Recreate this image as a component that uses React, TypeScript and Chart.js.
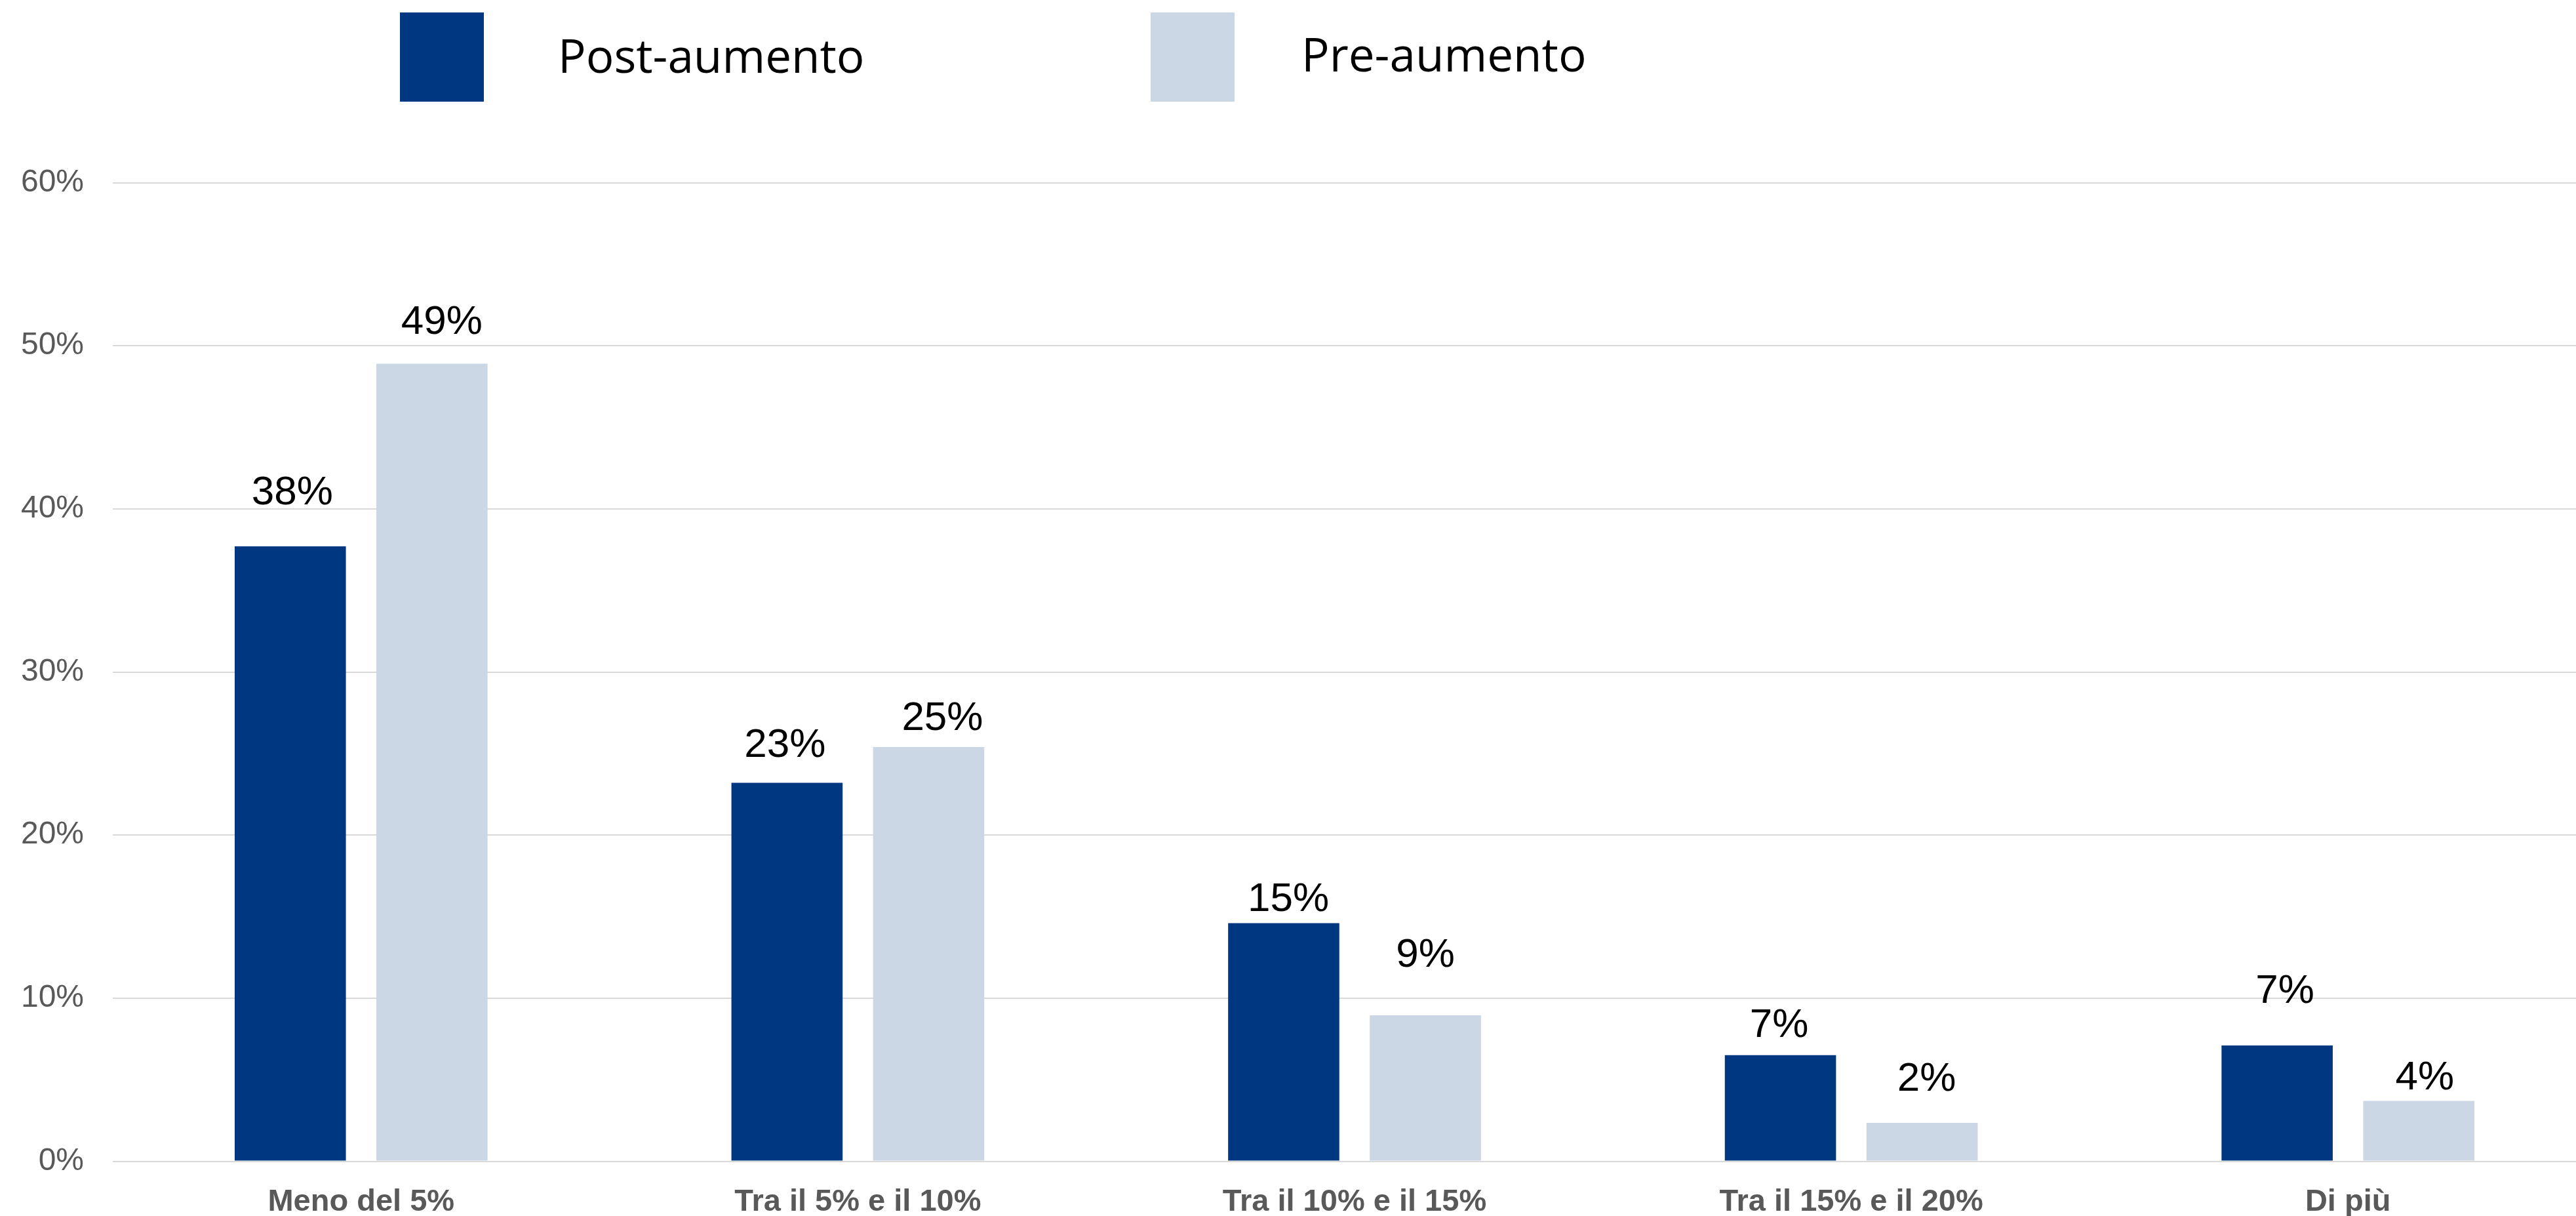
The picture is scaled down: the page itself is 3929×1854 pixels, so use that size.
import React, { useEffect, useRef } from 'react';
import { Chart, registerables } from 'chart.js';

Chart.register(...registerables);

// ---- Data ----
const categories = ['Meno del 5%', 'Tra il 5% e il 10%', 'Tra il 10% e il 15%', 'Tra il 15% e il 20%', 'Di più'];
const seriesNames = ['Post-aumento', 'Pre-aumento'];
const postValues = [37.7, 23.2, 14.6, 6.5, 7.1];
const preValues = [48.9, 25.4, 8.95, 2.35, 3.7];
const yTickMax = 60;
const yTickStep = 10;

// ---- Style ----
const COLORS = ['#003781', '#cbd7e5'];
const GRID = '#d9d9d9';
const AXIS_TEXT = '#595959';
const SANS = '"Liberation Sans", Arial, sans-serif';
const LEGEND_FONT = '"Open Sans", "Noto Sans", sans-serif';

// label offsets [dx, dy] from bar top-center (manual placements in the original)
const labelOffsets = [
  [[3, 64], [-3, 40], [7, 18], [-2, 28], [12, 65]],
  [[15, 46], [21, 26], [0, 74], [7, 49], [9, 17]],
];

const legendItems = [
  { box: [610, 19, 128, 136], textX: 851, baseline: 111 },
  { box: [1755, 19, 128, 136], textX: 1985, baseline: 109 },
];

const valueLabelPlugin = {
  id: 'valueLabels',
  afterDatasetsDraw(chart: any) {
    const ctx = chart.ctx;
    ctx.save();
    ctx.font = `62px ${SANS}`;
    ctx.fillStyle = '#000000';
    ctx.textAlign = 'center';
    ctx.textBaseline = 'alphabetic';
    chart.data.datasets.forEach((ds: any, di: number) => {
      const meta = chart.getDatasetMeta(di);
      meta.data.forEach((bar: any, i: number) => {
        const v = ds.data[i];
        const [dx, dy] = labelOffsets[di][i];
        ctx.fillText(`${Math.round(v)}%`, bar.x + dx, bar.y - dy);
      });
    });
    ctx.restore();
  },
};

const legendPlugin = {
  id: 'customLegend',
  afterDraw(chart: any) {
    const ctx = chart.ctx;
    ctx.save();
    ctx.font = `71px ${LEGEND_FONT}`;
    ctx.textAlign = 'left';
    ctx.textBaseline = 'alphabetic';
    chart.data.datasets.forEach((ds: any, di: number) => {
      const it = legendItems[di];
      ctx.fillStyle = ds.backgroundColor;
      ctx.fillRect(it.box[0], it.box[1], it.box[2], it.box[3]);
      ctx.fillStyle = '#000000';
      ctx.fillText(ds.label, it.textX, it.baseline);
    });
    ctx.restore();
  },
};

export default function App() {
  const canvasRef = useRef<HTMLCanvasElement | null>(null);

  useEffect(() => {
    const canvas = canvasRef.current;
    if (!canvas) return;
    const chart = new Chart(canvas, {
      type: 'bar',
      data: {
        labels: categories,
        datasets: [
          { label: seriesNames[0], data: postValues, backgroundColor: COLORS[0], borderWidth: 0 },
          { label: seriesNames[1], data: preValues, backgroundColor: COLORS[1], borderWidth: 0 },
        ],
      },
      options: {
        responsive: false,
        maintainAspectRatio: false,
        animation: false,
        devicePixelRatio: 1,
        layout: { padding: { top: 278.5, left: 0, right: 0, bottom: 0 } },
        datasets: {
          bar: { categoryPercentage: 0.5704, barPercentage: 0.785 },
        },
        plugins: {
          legend: { display: false },
          tooltip: { enabled: false },
          title: { display: false },
        },
        scales: {
          x: {
            grid: { display: false, drawTicks: false },
            border: { display: false },
            ticks: {
              color: AXIS_TEXT,
              font: { family: SANS, size: 47, weight: 'bold' },
              padding: 34,
              maxRotation: 0,
              autoSkip: false,
            },
            afterFit(scale: any) {
              scale.height = 83.5;
            },
          },
          y: {
            min: 0,
            max: yTickMax,
            grid: { color: GRID, lineWidth: 2, drawTicks: false },
            border: { display: false },
            ticks: {
              stepSize: yTickStep,
              color: AXIS_TEXT,
              font: { family: SANS, size: 48 },
              padding: 44,
              callback: (v: any) => `${v}%`,
            },
            afterFit(scale: any) {
              scale.width = 172;
            },
          },
        },
      },
      plugins: [valueLabelPlugin, legendPlugin],
    });
    return () => chart.destroy();
  }, []);

  return (
    <div
      style={{
        position: 'absolute',
        left: 0,
        top: 0,
        width: 3929,
        height: 1854,
        overflow: 'hidden',
        background: '#ffffff',
      }}
    >
      <canvas ref={canvasRef} width={3960} height={1854} style={{ display: 'block', width: 3960, height: 1854 }} />
    </div>
  );
}
